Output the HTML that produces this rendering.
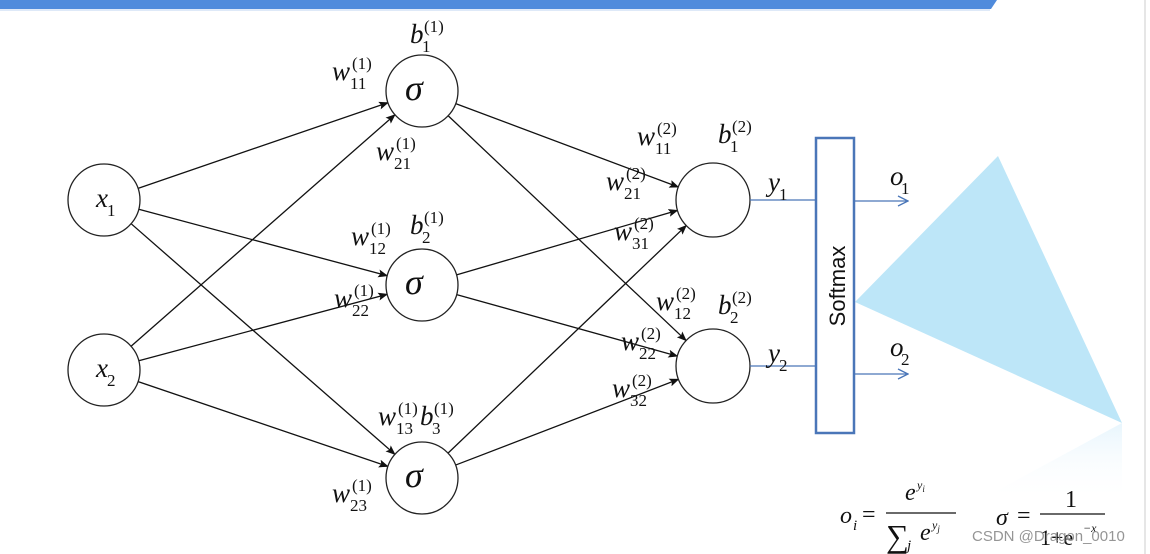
<!DOCTYPE html>
<html><head><meta charset="utf-8"><style>
html,body{margin:0;padding:0;background:#fff;width:1150px;height:554px;overflow:hidden}
svg{display:block}
.t{font-family:"Liberation Serif",serif;font-style:italic;fill:#111}
.s{font-family:"Liberation Serif",serif;fill:#111}
</style></head><body>
<svg id="g" width="1150" height="554" xmlns="http://www.w3.org/2000/svg">
<defs>
<marker id="a" markerWidth="10" markerHeight="8" refX="9" refY="4" orient="auto" markerUnits="userSpaceOnUse"><path d="M0,0 L10,4 L0,8 L2,4 Z" fill="#111"/></marker>
<marker id="b" markerWidth="12" markerHeight="12" refX="11" refY="6" orient="auto" markerUnits="userSpaceOnUse"><path d="M1,1 L11,6 L1,11" fill="none" stroke="#4a76b8" stroke-width="1.3"/></marker>
<linearGradient id="fg" x1="0" y1="0" x2="0" y2="1"><stop offset="0" stop-color="#e2f3fc" stop-opacity="0.8"/><stop offset="0.6" stop-color="#fff" stop-opacity="0"/></linearGradient>
</defs>
<polygon points="0,0 997,0 991,9 0,9" fill="#4f8bdc"/>
<line x1="0" y1="10" x2="990" y2="10" stroke="#bcd3f0" stroke-width="1"/>
<line x1="1145" y1="0" x2="1145" y2="554" stroke="#e6e6e6" stroke-width="2"/>
<polygon points="855,302 998,156 1122,423" fill="#bde6f8"/>
<polygon points="1122,423 880,554 1122,554" fill="url(#fg)"/>
<g id="edges" stroke="#111" stroke-width="1.3"></g>
<g fill="#fff" stroke="#222" stroke-width="1.3">
<circle cx="104" cy="200" r="36"/><circle cx="104" cy="370" r="36"/>
<circle cx="422" cy="91" r="36"/><circle cx="422" cy="285" r="36"/><circle cx="422" cy="478" r="36"/>
<circle cx="713" cy="200" r="37"/><circle cx="713" cy="366" r="37"/>
</g>
<line x1="750" y1="200" x2="816" y2="200" stroke="#4a76b8" stroke-width="1.3"/>
<line x1="750" y1="366" x2="816" y2="366" stroke="#4a76b8" stroke-width="1.3"/>
<line x1="855" y1="201" x2="908" y2="201" stroke="#4a76b8" stroke-width="1.3" marker-end="url(#b)"/>
<line x1="855" y1="374" x2="908" y2="374" stroke="#4a76b8" stroke-width="1.3" marker-end="url(#b)"/>
<rect x="816" y="138" width="38" height="295" fill="#fff" stroke="#4a76b8" stroke-width="2.5"/>
<text transform="translate(845,286) rotate(-90)" text-anchor="middle" font-family="Liberation Sans,sans-serif" font-size="22" fill="#111">Softmax</text>
<g id="labels"></g>
<text class="t" x="405" y="100" font-size="36">σ</text>
<text class="t" x="405" y="294" font-size="36">σ</text>
<text class="t" x="405" y="487" font-size="36">σ</text>
<!-- formulas -->
<text class="t" x="840" y="523" font-size="24">o</text><text class="s" x="853" y="530" font-style="italic" font-size="15">i</text>
<text class="s" x="862" y="522" font-size="24">=</text>
<text class="t" x="905" y="500" font-size="24">e</text><text class="s" x="917" y="489" font-style="italic" font-size="12">y<tspan font-size="9" dy="3">i</tspan></text>
<line x1="886" y1="513" x2="956" y2="513" stroke="#111" stroke-width="1.3"/>
<text class="s" x="886" y="547" font-size="32">∑</text><text class="s" x="907" y="550" font-style="italic" font-size="15">j</text>
<text class="t" x="920" y="540" font-size="24">e</text><text class="s" x="932" y="529" font-style="italic" font-size="12">y<tspan font-size="9" dy="3">j</tspan></text>
<text class="t" x="996" y="525" font-size="24">σ</text><text class="s" x="1017" y="523" font-size="24">=</text>
<text class="s" x="1065" y="507" font-size="24">1</text>
<line x1="1040" y1="514" x2="1105" y2="514" stroke="#111" stroke-width="1.3"/>
<text class="s" x="1040" y="545" font-size="22">1+e</text><text class="s" x="1083" y="532" font-style="italic" font-size="12">−x</text>
<text x="972" y="541" font-family="Liberation Sans,sans-serif" font-size="15" fill="#8a8a8a" fill-opacity="0.9">CSDN @Dragon_0010</text>
</svg>
<script>
var NS="http://www.w3.org/2000/svg";
function el(p,t,a,txt){var e=document.createElementNS(NS,t);for(var k in a)e.setAttribute(k,a[k]);if(txt)e.textContent=txt;p.appendChild(e);return e;}
var E=document.getElementById("edges");
var X=[[104,200,36],[104,370,36]],H=[[422,91,36],[422,285,36],[422,478,36]],O=[[713,200,37],[713,366,37]];
function edge(a,b){var dx=b[0]-a[0],dy=b[1]-a[1],d=Math.sqrt(dx*dx+dy*dy),ux=dx/d,uy=dy/d;
el(E,"line",{x1:a[0]+ux*a[2],y1:a[1]+uy*a[2],x2:b[0]-ux*b[2],y2:b[1]-uy*b[2],"marker-end":"url(#a)"});}
X.forEach(function(a){H.forEach(function(b){edge(a,b)})});
H.forEach(function(a){O.forEach(function(b){edge(a,b)})});
var L=document.getElementById("labels");
function lab(b,x,y,sub,sup){el(L,"text",{"class":"t",x:x,y:y,"font-size":27},b);
 var w=(b=="w")?19:(b=="b"?13:12);
 if(sup)el(L,"text",{"class":"s",x:x+w+1,y:y-11,"font-size":17},sup);
 if(sub)el(L,"text",{"class":"s",x:x+w-1,y:y+9,"font-size":17},sub);}
lab("x",96,207,"1");lab("x",96,377,"2");
lab("b",410,43,"1","(1)");lab("w",332,80,"11","(1)");lab("w",376,160,"21","(1)");
lab("w",351,245,"12","(1)");lab("b",410,234,"2","(1)");lab("w",334,307,"22","(1)");
lab("w",378,425,"13","(1)");lab("b",420,425,"3","(1)");lab("w",332,502,"23","(1)");
lab("w",637,145,"11","(2)");lab("b",718,143,"1","(2)");lab("w",606,190,"21","(2)");
lab("w",614,240,"31","(2)");lab("w",656,310,"12","(2)");lab("b",718,314,"2","(2)");
lab("w",621,350,"22","(2)");lab("w",612,397,"32","(2)");
lab("y",768,191,"1");lab("y",768,362,"2");lab("o",890,185,"1");lab("o",890,356,"2");
</script>
</body></html>
